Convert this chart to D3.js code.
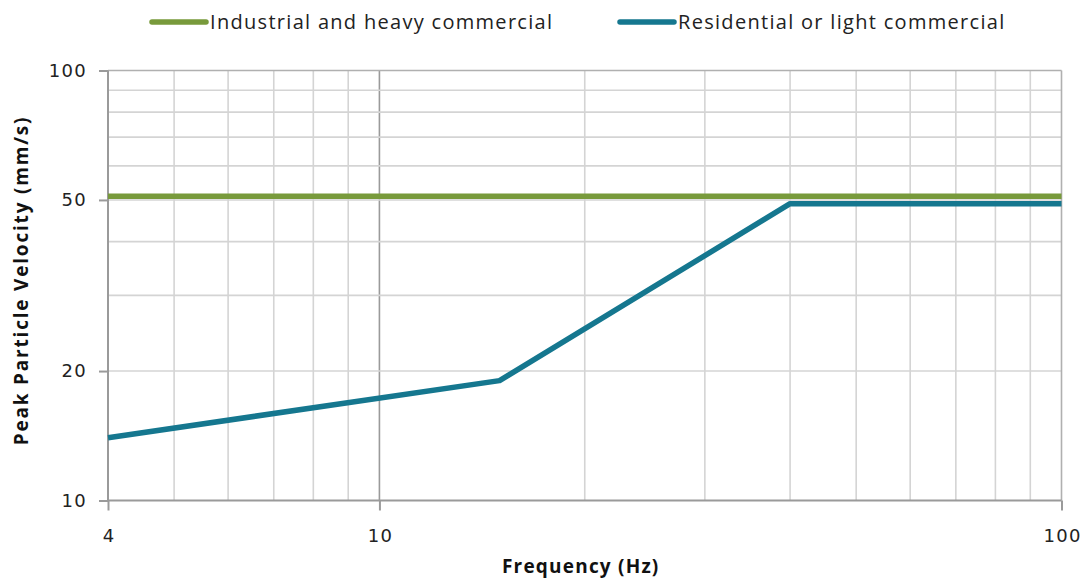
<!DOCTYPE html>
<html>
<head>
<meta charset="utf-8">
<script src="https://cdn.jsdelivr.net/npm/d3@7"></script>
<style>
  html, body { margin: 0; padding: 0; background: #fff; }
  svg { display: block; }
</style>
</head>
<body>
<svg id="chart" width="1088" height="580"></svg>
<script>
// Vibration limit curves: peak particle velocity vs. frequency
const seriesNames = ["Industrial and heavy commercial", "Residential or light commercial"];
const seriesColors = ["#789a3b", "#15778f"];
const industrialFreq = [4, 100];
const industrialPPV = [51, 51];
const residentialFreq = [4, 15, 40, 100];
const residentialPPV = [14, 19, 49, 49];

const xTickValues = [4, 10, 100];
const yTickValues = [10, 20, 50, 100];
const xGridValues = [5, 6, 7, 8, 9, 10, 20, 30, 40, 50, 60, 70, 80, 90];
const yGridValues = [20, 30, 40, 50, 60, 70, 80, 90];

const svg = d3.select("#chart");
const plotLeft = 108, plotRight = 1061.5, plotTop = 70.5, plotBottom = 500.5;

const x = d3.scaleLog().domain([4, 100]).range([plotLeft, plotRight]);
const y = d3.scaleLog().domain([10, 100]).range([plotBottom, plotTop]);

// gridlines
const grid = svg.append("g");
grid.selectAll("line.v").data(xGridValues).join("line")
  .attr("class", "v")
  .attr("x1", d => x(d)).attr("x2", d => x(d))
  .attr("y1", plotTop).attr("y2", plotBottom)
  .attr("stroke", d => d === 10 ? "#9a9a9a" : "#d4d4d4")
  .attr("stroke-width", 1.6);
grid.selectAll("line.h").data(yGridValues).join("line")
  .attr("class", "h")
  .attr("x1", plotLeft).attr("x2", plotRight)
  .attr("y1", d => y(d)).attr("y2", d => y(d))
  .attr("stroke", "#d4d4d4")
  .attr("stroke-width", 1.6);
// top and right frame lines
svg.append("line").attr("x1", plotLeft).attr("x2", plotRight).attr("y1", plotTop).attr("y2", plotTop)
  .attr("stroke", "#b0b0b0").attr("stroke-width", 1.6);
svg.append("line").attr("x1", plotRight).attr("x2", plotRight).attr("y1", plotTop).attr("y2", plotBottom)
  .attr("stroke", "#b0b0b0").attr("stroke-width", 1.6);

// axes
const fontTicks = "'DejaVu Sans', Verdana, sans-serif";
const xAxis = d3.axisBottom(x).tickValues(xTickValues).tickFormat(d3.format("d"))
  .tickSize(10).tickPadding(19);
const yAxis = d3.axisLeft(y).tickValues(yTickValues).tickFormat(d3.format("d"))
  .tickSize(9).tickPadding(12);

const gx = svg.append("g").attr("transform", `translate(0,${plotBottom})`).call(xAxis);
const gy = svg.append("g").attr("transform", `translate(${plotLeft},0)`).call(yAxis);
[gx, gy].forEach(g => {
  g.select(".domain").attr("stroke", "#9a9a9a").attr("stroke-width", 2);
  g.selectAll(".tick line").attr("stroke", "#9a9a9a").attr("stroke-width", 2);
  g.selectAll(".tick text").attr("fill", "#222").attr("font-size", 18)
    .attr("letter-spacing", "1.3px")
    .attr("font-family", fontTicks);
});
gx.selectAll(".tick text").attr("dx", "0.6px");
gx.select(".domain").attr("d", `M${plotLeft},0H${plotRight}`);
gy.select(".domain").attr("d", `M0,${plotTop}V${plotBottom}`);

// data lines
const line = d3.line().x(d => x(d[0])).y(d => y(d[1]));
const industrial = industrialFreq.map((f, i) => [f, industrialPPV[i]]);
const residential = residentialFreq.map((f, i) => [f, residentialPPV[i]]);
svg.append("path").datum(industrial).attr("d", line)
  .attr("fill", "none").attr("stroke", seriesColors[0]).attr("stroke-width", 5.5);
svg.append("path").datum(residential).attr("d", line)
  .attr("fill", "none").attr("stroke", seriesColors[1]).attr("stroke-width", 5.5)
  .attr("stroke-linejoin", "round");

// legend
const fontText = "'Open Sans', 'Noto Sans', sans-serif";
const legendX = [152, 620];
const legend = svg.append("g");
seriesNames.forEach((name, i) => {
  const g = legend.append("g").attr("transform", `translate(${legendX[i]},22)`);
  g.append("line").attr("x1", 0).attr("x2", 54).attr("y1", 0).attr("y2", 0)
    .attr("stroke", seriesColors[i]).attr("stroke-width", 5.5).attr("stroke-linecap", "round");
  g.append("text").attr("x", 58).attr("y", 0).attr("dy", "0.35em")
    .attr("font-family", fontText).attr("font-size", 20).attr("fill", "#222")
    .attr("letter-spacing", "1.3px")
    .text(name);
});

// axis titles
svg.append("text").attr("x", (plotLeft + plotRight) / 2 - 4).attr("y", 573)
  .attr("text-anchor", "middle").attr("font-family", fontText)
  .attr("font-weight", "bold").attr("font-size", 19).attr("fill", "#111")
  .attr("letter-spacing", "1.2px")
  .text("Frequency (Hz)");
svg.append("text")
  .attr("transform", `translate(28,${(plotTop + plotBottom) / 2 - 5}) rotate(-90)`)
  .attr("text-anchor", "middle").attr("font-family", fontText)
  .attr("font-weight", "bold").attr("font-size", 19).attr("fill", "#111")
  .attr("letter-spacing", "1.8px")
  .text("Peak Particle Velocity (mm/s)");
</script>
</body>
</html>
